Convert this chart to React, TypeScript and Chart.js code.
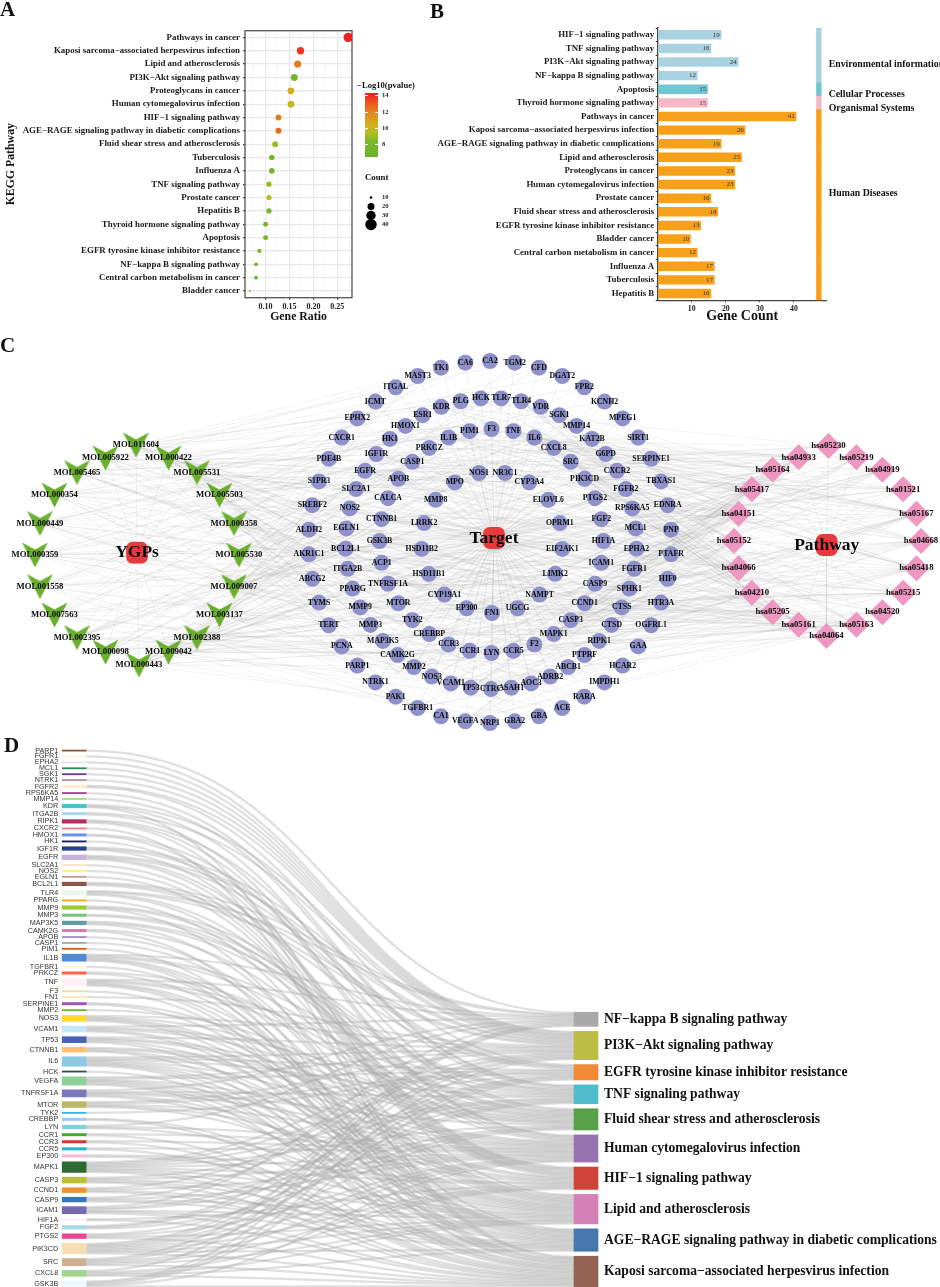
import React, { useEffect, useRef } from "react";
import { Chart, registerables } from "chart.js";
Chart.register(...registerables);

const SERIF = '"Liberation Serif", serif';
const SANS = '"Liberation Sans", sans-serif';

// ---------- Panel A ----------
const keggPathways = ["Pathways in cancer", "Kaposi sarcoma−associated herpesvirus infection", "Lipid and atherosclerosis", "PI3K−Akt signaling pathway", "Proteoglycans in cancer", "Human cytomegalovirus infection", "HIF−1 signaling pathway", "AGE−RAGE signaling pathway in diabetic complications", "Fluid shear stress and atherosclerosis", "Tuberculosis", "Influenza A", "TNF signaling pathway", "Prostate cancer", "Hepatitis B", "Thyroid hormone signaling pathway", "Apoptosis", "EGFR tyrosine kinase inhibitor resistance", "NF−kappa B signaling pathway", "Central carbon metabolism in cancer", "Bladder cancer"];
const geneRatio = [0.273, 0.173, 0.167, 0.16, 0.153, 0.153, 0.127, 0.127, 0.12, 0.113, 0.113, 0.107, 0.107, 0.107, 0.1, 0.1, 0.087, 0.08, 0.08, 0.067];
const keggCount = [41, 26, 25, 24, 23, 23, 19, 19, 18, 17, 17, 16, 16, 16, 15, 15, 13, 12, 12, 10];
const logP = [14.3, 13.8, 12.2, 7.9, 10.6, 10.1, 12.1, 12.6, 9.0, 7.9, 7.6, 8.9, 9.7, 7.7, 7.8, 7.6, 8.2, 7.7, 7.6, 7.6];
const colorStops: [number, number[]][] = [[6.5, [103, 179, 46]], [8.5, [125, 185, 40]], [9.5, [180, 190, 35]], [10.5, [210, 175, 28]], [12, [229, 130, 30]], [13, [235, 90, 30]], [14.3, [238, 32, 32]]];
const legendCounts = ["10", "20", "30", "40"];
const legendRadii = [1.3, 3.5, 4.7, 5.7];
const legendTicks = [14, 12, 10, 8];

// ---------- Panel B ----------
const barCategories = ["HIF−1 signaling pathway", "TNF signaling pathway", "PI3K−Akt signaling pathway", "NF−kappa B signaling pathway", "Apoptosis", "Thyroid hormone signaling pathway", "Pathways in cancer", "Kaposi sarcoma−associated herpesvirus infection", "AGE−RAGE signaling pathway in diabetic complications", "Lipid and atherosclerosis", "Proteoglycans in cancer", "Human cytomegalovirus infection", "Prostate cancer", "Fluid shear stress and atherosclerosis", "EGFR tyrosine kinase inhibitor resistance", "Bladder cancer", "Central carbon metabolism in cancer", "Influenza A", "Tuberculosis", "Hepatitis B"];
const barCounts = [19, 16, 24, 12, 15, 15, 41, 26, 19, 25, 23, 23, 16, 18, 13, 10, 12, 17, 17, 16];
const barClass = [0, 0, 0, 0, 1, 2, 3, 3, 3, 3, 3, 3, 3, 3, 3, 3, 3, 3, 3, 3];
const classColors = ["#a9d2e0", "#70c7d2", "#f6b8c6", "#f7a11a"];
const stripRange = [46.6, 48];

// ---------- Panel C ----------
const moleculeNames = ["MOL000359", "MOL000449", "MOL000354", "MOL005465", "MOL005922", "MOL011604", "MOL000422", "MOL005531", "MOL005503", "MOL000358", "MOL005530", "MOL009007", "MOL003137", "MOL002388", "MOL009042", "MOL000443", "MOL000098", "MOL002395", "MOL007563", "MOL001558"];
const pathwayNodes = ["hsa05152", "hsa04151", "hsa05417", "hsa05164", "hsa04933", "hsa05230", "hsa05219", "hsa04919", "hsa01521", "hsa05167", "hsa04668", "hsa05418", "hsa05215", "hsa04520", "hsa05163", "hsa04064", "hsa05161", "hsa05205", "hsa04210", "hsa04066"];
const ringOuter = ["CA2", "TGM2", "CFD", "DGAT2", "FPR2", "KCNH2", "MPEG1", "SIRT1", "SERPINE1", "TBXAS1", "EDNRA", "PNP", "PTAFR", "HIF0", "HTR3A", "OGFRL1", "GAA", "HCAR2", "IMPDH1", "RARA", "ACE", "GBA", "GBA2", "NRP1", "VEGFA", "CA1", "TGFBR1", "PAK1", "NTRK1", "PARP1", "PCNA", "TERT", "TYMS", "ABCG2", "AKR1C1", "ALDH2", "SREBF2", "S1PR3", "PDE4B", "CXCR1", "EPHX2", "ICMT", "ITGAL", "MAST3", "TK1", "CA6"];
const ringSecond = ["HCK", "TLR7", "TLR4", "VDR", "SGK1", "MMP14", "KAT2B", "G6PD", "CXCR2", "FGFR2", "RPS6KA5", "MCL1", "EPHA2", "FGFR1", "SPHK1", "CTSS", "CTSD", "RIPK1", "PTPRF", "ABCB1", "ADRB2", "AOC3", "ASAH1", "CTRC", "TP53", "VCAM1", "NOS3", "MMP2", "CAMK2G", "MAP3K5", "MMP3", "MMP9", "PPARG", "ITGA2B", "BCL2L1", "EGLN1", "NOS2", "SLC2A1", "EGFR", "IGF1R", "HK1", "HMOX1", "ESR1", "KDR", "PLG"];
const ringThird = ["F3", "TNF", "IL6", "CXCL8", "SRC", "PIK3CD", "PTGS2", "FGF2", "HIF1A", "ICAM1", "CASP9", "CCND1", "CASP3", "MAPK1", "F2", "CCR5", "LYN", "CCR1", "CCR3", "CREBBP", "TYK2", "MTOR", "TNFRSF1A", "ACP1", "GSK3B", "CTNNB1", "CALCA", "APOB", "CASP1", "PRKCZ", "IL1B", "PIM1"];
const ringInner = ["NOS1", "NR3C1", "CYP3A4", "ELOVL6", "OPRM1", "EIF2AK1", "LIMK2", "NAMPT", "UGCG", "FN1", "EP300", "CYP19A1", "HSD11B1", "HSD11B2", "LRRK2", "MMP8", "MPO"];
// target indices (outer, second, third, inner rings in sequence) linked to each molecule; estimated
const moleculeTargets: number[][] = [
  [0, 14, 33, 47, 58, 72, 91, 105, 120, 127, 135, 8, 64, 83, 36, 99],
  [2, 19, 38, 49, 60, 77, 93, 108, 117, 123, 132, 26, 86, 101, 35],
  [5, 21, 40, 53, 66, 79, 96, 111, 122, 129, 137, 11, 70, 37, 94],
  [7, 29, 43, 51, 63, 81, 97, 104, 113, 125, 134, 39, 85, 34, 56],
  [9, 24, 41, 55, 68, 74, 92, 107, 119, 130, 139, 3, 89, 42, 100, 61],
  [1, 17, 44, 46, 62, 78, 90, 103, 116, 124, 133, 30, 80, 6, 112],
  [4, 22, 32, 50, 69, 84, 95, 110, 121, 128, 136, 15, 59, 28, 102],
  [10, 27, 45, 54, 65, 75, 98, 106, 115, 126, 138, 18, 87, 31, 91, 73],
  [12, 25, 37, 48, 67, 82, 94, 109, 118, 131, 123, 20, 57, 88, 105, 71],
  [13, 23, 34, 52, 71, 76, 99, 102, 114, 127, 135, 16, 61, 92, 44, 83],
  [15, 26, 39, 47, 64, 86, 93, 113, 122, 124, 137, 2, 72, 108, 59, 100, 33],
  [16, 28, 35, 56, 73, 80, 101, 111, 117, 132, 139, 8, 68, 96, 47, 120, 41],
  [18, 30, 42, 58, 70, 89, 103, 107, 121, 125, 129, 5, 77, 95, 50, 116, 36, 85],
  [19, 31, 36, 60, 74, 83, 104, 110, 119, 133, 136, 11, 66, 98, 52, 115, 27, 87, 97, 114],
  [20, 32, 38, 62, 75, 85, 106, 112, 118, 126, 130, 1, 69, 91, 54, 122, 24, 79, 109, 103, 64],
  [21, 33, 43, 49, 78, 87, 97, 105, 116, 134, 138, 9, 63, 92, 55, 113, 29, 81],
  [22, 34, 40, 51, 76, 84, 100, 114, 120, 128, 131, 13, 67, 94, 46, 107],
  [6, 35, 41, 53, 77, 82, 95, 109, 115, 123, 137, 17, 65, 104],
  [23, 30, 44, 57, 72, 88, 98, 111, 119, 129, 135, 4, 74, 93],
  [25, 37, 45, 48, 79, 90, 99, 101, 118, 127, 139, 12, 71, 110, 31],
];
// genes of the pathways not shown in panel D; estimated
const otherPathwayGenes: Record<string, string[]> = {
  hsa05230: ["EGFR", "HK1", "MTOR", "MAPK1", "PIK3CD", "SLC2A1", "KDR", "FGFR1", "FGFR2", "HIF1A", "TP53", "SRC"],
  hsa05219: ["EGFR", "VEGFA", "MMP2", "MMP9", "PTGS2", "TP53", "CCND1", "MAPK1", "CXCL8", "FGFR1"],
  hsa04919: ["MTOR", "PIK3CD", "MAPK1", "CCND1", "TP53", "CTNNB1", "MMP2", "MMP9", "ICAM1", "GSK3B", "PRKCZ", "EP300", "CREBBP", "HIF1A", "SRC"],
  hsa05215: ["EGFR", "MMP3", "MMP9", "MTOR", "PIK3CD", "MAPK1", "TP53", "CTNNB1", "CCND1", "GSK3B", "FGFR1", "FGFR2", "IGF1R", "EP300", "CREBBP", "BCL2L1"],
  hsa04520: ["EGFR", "SRC", "IGF1R", "TGFBR1", "MAPK1", "CTNNB1", "EP300", "CREBBP", "FGFR1", "LYN", "VEGFA"],
  hsa05161: ["TNF", "IL6", "CXCL8", "MMP9", "CASP3", "CASP9", "MAPK1", "PIK3CD", "TP53", "CCND1", "BCL2L1", "SRC", "EP300", "CREBBP", "TLR4", "TGFBR1"],
  hsa05205: ["EGFR", "VEGFA", "KDR", "MMP2", "MMP9", "MAPK1", "MTOR", "PIK3CD", "TP53", "CTNNB1", "CCND1", "CASP3", "FN1", "SRC", "HIF1A", "ITGA2B", "IGF1R", "FGFR1", "FGF2", "TNF", "ESR1", "TLR4", "CAMK2G"],
  hsa04210: ["TNF", "CASP3", "CASP9", "BCL2L1", "MCL1", "MAPK1", "PIK3CD", "TP53", "TNFRSF1A", "RIPK1", "PARP1", "CTSS", "CTSD", "MAP3K5", "HIF1A"],
  hsa05152: ["TNF", "IL1B", "IL6", "CASP3", "CASP9", "MAPK1", "TLR4", "TNFRSF1A", "BCL2L1", "TGFBR1", "CTSS", "CTSD", "LYN", "HCK", "MMP9", "NOS2", "CREBBP"],
  hsa05164: ["TNF", "IL1B", "IL6", "CXCL8", "CASP1", "CASP3", "CASP9", "MAPK1", "PIK3CD", "TLR4", "TNFRSF1A", "ICAM1", "EP300", "CREBBP", "GSK3B", "TP53", "RIPK1"],
};

// ---------- Panel D ----------
const sankeyPathways = ["NF−kappa B signaling pathway", "PI3K−Akt signaling pathway", "EGFR tyrosine kinase inhibitor resistance", "TNF signaling pathway", "Fluid shear stress and atherosclerosis", "Human cytomegalovirus infection", "HIF−1 signaling pathway", "Lipid and atherosclerosis", "AGE−RAGE signaling pathway in diabetic complications", "Kaposi sarcoma−associated herpesvirus infection"];
const sankeyPathwayIds = ["hsa04064", "hsa04151", "hsa01521", "hsa04668", "hsa05418", "hsa05163", "hsa04066", "hsa05417", "hsa04933", "hsa05167"];
const sankeyPathwayColors = ["#a9a9a9", "#bcbd44", "#f28a35", "#4fbccb", "#57a14b", "#9873b1", "#cf4436", "#d580b7", "#4678b0", "#956352"];
const sankeyGenes = ["PARP1", "FGFR1", "EPHA2", "MCL1", "SGK1", "NTRK1", "FGFR2", "RPS6KA5", "MMP14", "KDR", "ITGA2B", "RIPK1", "CXCR2", "HMOX1", "HK1", "IGF1R", "EGFR", "SLC2A1", "NOS2", "EGLN1", "BCL2L1", "TLR4", "PPARG", "MMP9", "MMP3", "MAP3K5", "CAMK2G", "APOB", "CASP1", "PIM1", "IL1B", "TGFBR1", "PRKCZ", "TNF", "F3", "FN1", "SERPINE1", "MMP2", "NOS3", "VCAM1", "TP53", "CTNNB1", "IL6", "HCK", "VEGFA", "TNFRSF1A", "MTOR", "TYK2", "CREBBP", "LYN", "CCR1", "CCR3", "CCR5", "EP300", "MAPK1", "CASP3", "CCND1", "CASP9", "ICAM1", "HIF1A", "FGF2", "PTGS2", "PIK3CD", "SRC", "CXCL8", "GSK3B"];
const sankeyGeneColors = ["#8c5a2b", "#fdf5e6", "#e6e6e6", "#2e8b57", "#6a3d9a", "#bc8f8f", "#fdebd0", "#ae3ea0", "#a6d98c", "#4fc0c4", "#add8e6", "#b03060", "#f08080", "#6495ed", "#191970", "#27408b", "#c5b3dc", "#ffe4c4", "#fff176", "#c49c94", "#8c564b", "#eef7ee", "#ff9f1c", "#9acd32", "#74c476", "#5f9ea0", "#de77ae", "#a58ac9", "#aaaaaa", "#d95f0e", "#4e8ccf", "#fffacd", "#ff6347", "#fff0f5", "#dde29f", "#ffe4b5", "#9b59b6", "#66b32e", "#ffd92f", "#c6e7f5", "#4a62b4", "#fdbf6f", "#8fc8e3", "#2f4f4f", "#8fcf9a", "#7b78c0", "#bdb76b", "#33b5ee", "#a6c4ea", "#7fd0d8", "#44aa33", "#d0392b", "#26b5c6", "#f8bbd0", "#2f6a35", "#bcbd3a", "#f28e2b", "#3a76b0", "#756bb1", "#f5f5f5", "#a3dbe6", "#e8488f", "#f5deb3", "#cdb08f", "#a1d58c", "#f0f8ff"];
const sankeyLinks: number[][] = [[0], [1], [1], [1], [1], [1], [1, 2], [3], [3], [1, 4, 9], [1, 5], [3, 5, 7], [9], [4, 6], [6], [1, 2, 6], [1, 2, 5, 6], [6], [6], [6], [0, 1, 2], [0, 1, 5, 6], [7], [3, 4, 8], [3, 4], [3, 4, 7], [5, 9], [7], [7], [9], [0, 3, 4, 7, 8, 9], [8], [4, 8], [0, 3, 4, 7, 8, 9], [9], [1], [6, 8], [4], [1, 4, 6, 7, 8], [0, 3, 4, 7, 8], [1, 4, 5, 7, 9], [4, 5, 7, 9], [1, 2, 3, 5, 6, 7, 8, 9], [9], [1, 2, 5, 6, 7, 8, 9], [0, 3, 4, 5, 7, 8], [1, 2, 5, 6, 7], [2], [8, 9], [0, 5, 7], [5, 9], [5, 9], [5, 9], [6, 7], [1, 2, 3, 4, 5, 6, 7, 8, 9], [3, 5, 7, 8, 9], [1, 5, 8, 9], [1, 5, 7, 8], [0, 3, 4, 7, 8, 9], [6, 9], [1, 2, 4], [3, 5, 7, 9], [1, 2, 3, 4, 5, 6, 7, 8, 9], [0, 2, 5, 6, 7, 9], [0, 6, 7, 8, 9], [0, 1, 2, 5, 9]];

// ---------- helpers ----------
function pValueColor(v: number) {
  for (let i = 1; i < colorStops.length; i++) {
    if (v <= colorStops[i][0]) {
      const [a, ca] = colorStops[i - 1], [b, cb] = colorStops[i];
      const t = Math.max(0, (v - a) / (b - a));
      return `rgb(${ca.map((c, k) => Math.round(c + (cb[k] - c) * t)).join(",")})`;
    }
  }
  return `rgb(${colorStops[colorStops.length - 1][1].join(",")})`;
}
const countRadius = (c: number) => 1 + 3.7 * Math.sqrt(Math.max(0, c - 10) / 31);

type Pt = { x: number; y: number; name: string };
function ring(names: string[], cx: number, cy: number, rx: number, ry: number, startDeg: number, shift: Record<string, [number, number]> = {}): Pt[] {
  return names.map((name, i) => {
    const a = ((startDeg + (360 * i) / names.length) * Math.PI) / 180;
    const s = shift[name] || [0, 0];
    return { x: cx + rx * Math.cos(a) + s[0], y: cy + ry * Math.sin(a) + s[1], name };
  });
}

const base: any = { responsive: false, animation: false, events: [], plugins: { legend: { display: false }, tooltip: { enabled: false } } };

function Cv({ left, top, width, height, make }: { left: number; top: number; width: number; height: number; make: () => any }) {
  const ref = useRef<HTMLCanvasElement>(null);
  useEffect(() => {
    const c = new Chart(ref.current!, make());
    return () => c.destroy();
  }, []);
  return <canvas ref={ref} width={width} height={height} style={{ position: "absolute", left, top, width, height, display: "block" }} />;
}

function Txt({ x, y, s, size, bold = true, align = "left", color = "#111", font = SERIF }: any) {
  const tx = align === "center" ? "-50%" : align === "right" ? "-100%" : "0";
  return <div style={{ position: "absolute", left: x, top: y, transform: `translate(${tx},-50%)`, fontFamily: font, fontSize: size, fontWeight: bold ? 700 : 400, color, whiteSpace: "nowrap", lineHeight: 1 }}>{s}</div>;
}

// ---------- chart configs ----------
function configA() {
  const isMajor = (v: number) => Math.abs(v / 0.05 - Math.round(v / 0.05)) < 1e-6;
  return {
    type: "scatter",
    data: {
      datasets: [{
        data: keggPathways.map((n, i) => ({ x: geneRatio[i], y: n })),
        pointRadius: keggCount.map(countRadius),
        backgroundColor: logP.map(pValueColor),
        borderWidth: 0,
      }],
    },
    options: {
      ...base,
      layout: { autoPadding: false, padding: { top: 10.7, right: 8, left: 0, bottom: 0 } },
      scales: {
        x: {
          type: "linear", min: 0.0569, max: 0.2808,
          afterBuildTicks: (s: any) => { s.ticks = [0.075, 0.1, 0.125, 0.15, 0.175, 0.2, 0.225, 0.25, 0.275].map((value) => ({ value })); },
          afterFit: (s: any) => { s.height = 32.3; },
          ticks: { autoSkip: false, maxRotation: 0, padding: 2, font: { family: SERIF, size: 8, weight: "bold" }, color: "#222", callback: (v: number) => (isMajor(v) ? v.toFixed(2) : "") },
          grid: {
            color: (c: any) => (c.tick && isMajor(c.tick.value) ? "#e8e8e8" : "#f3f3f3"),
            lineWidth: (c: any) => (c.tick && isMajor(c.tick.value) ? 1.2 : 0.7),
            tickColor: (c: any) => (c.tick && isMajor(c.tick.value) ? "#444" : "rgba(0,0,0,0)"),
            tickLength: 2,
          },
          border: { display: false },
          title: { display: true, text: "Gene Ratio", color: "#111", font: { family: SERIF, size: 11.8, weight: "bold" }, padding: { top: 0, bottom: 6 } },
        },
        y: {
          type: "category", labels: keggPathways, offset: true,
          afterFit: (s: any) => { s.width = 245; },
          ticks: { autoSkip: false, padding: 3, font: { family: SERIF, size: 8.9, weight: "bold" }, color: "#1a1a1a" },
          grid: { color: "#e8e8e8", lineWidth: 1.2, tickColor: "#444", tickLength: 2 },
          border: { display: false },
          title: { display: true, text: "KEGG Pathway", color: "#111", font: { family: SERIF, size: 11.8, weight: "bold" }, padding: { top: 4, bottom: 0 } },
        },
      },
    },
    plugins: [{
      id: "panelBorder",
      beforeDatasetsDraw(c: any) {
        const a = c.chartArea, g = c.ctx;
        g.save(); g.strokeStyle = "#555"; g.lineWidth = 1.3; g.strokeRect(a.left, a.top, a.width, a.height); g.restore();
      },
    }],
  };
}

function configCountLegend() {
  return {
    type: "scatter",
    data: { datasets: [{ data: legendCounts.map((y) => ({ x: 0, y })), pointRadius: legendRadii, backgroundColor: "#000", borderWidth: 0 }] },
    options: {
      ...base,
      layout: { autoPadding: false, padding: 0 },
      scales: {
        x: { display: false, min: -1, max: 1 },
        y: {
          type: "category", position: "right", labels: legendCounts, offset: true,
          afterFit: (s: any) => { s.width = 26; },
          grid: { display: false, drawTicks: false }, border: { display: false },
          ticks: { autoSkip: false, padding: 4, font: { family: SERIF, size: 6.5, weight: "bold" }, color: "#222" },
        },
      },
    },
  };
}

function configB() {
  const classEdge = barClass.map((c) => classColors[c]);
  return {
    type: "bar",
    data: {
      labels: barCategories,
      datasets: [
        { data: barCounts, backgroundColor: classEdge, borderColor: "rgba(255,255,255,0.45)", borderWidth: 1, barPercentage: 0.84, categoryPercentage: 1, grouped: false },
        { data: barCategories.map(() => stripRange), backgroundColor: classEdge, borderWidth: 0, barPercentage: 1, categoryPercentage: 1, grouped: false },
      ],
    },
    options: {
      ...base,
      indexAxis: "y",
      layout: { autoPadding: false, padding: { top: 8, right: 113.3, left: 0, bottom: 0 } },
      scales: {
        x: {
          type: "linear", min: 0, max: 49.6, afterFit: (s: any) => { s.height = 29.7; },
          afterBuildTicks: (s: any) => { s.ticks = [10, 20, 30, 40].map((value) => ({ value })); },
          ticks: { autoSkip: false, maxRotation: 0, padding: 2, font: { family: SERIF, size: 7.8, weight: "bold" }, color: "#222" },
          grid: { drawOnChartArea: false, color: "#333", tickLength: 2 },
          border: { color: "#444", width: 1.2 },
          title: { display: true, text: "Gene Count", color: "#111", font: { family: SERIF, size: 14, weight: "bold" }, padding: { top: 0, bottom: 5 } },
        },
        y: {
          type: "category", afterFit: (s: any) => { s.width = 227.7; },
          ticks: { autoSkip: false, padding: 1.5, font: { family: SERIF, size: 8.85, weight: "bold" }, color: "#1a1a1a" },
          grid: { drawOnChartArea: false, color: "#333", tickLength: 2 },
          border: { color: "#444", width: 1.4 },
        },
      },
    },
    plugins: [{
      id: "barValues",
      afterDatasetsDraw(c: any) {
        const g = c.ctx;
        g.save(); g.font = `7px ${SERIF}`; g.fillStyle = "#333"; g.textAlign = "right"; g.textBaseline = "middle";
        c.getDatasetMeta(0).data.forEach((b: any, i: number) => g.fillText(String(barCounts[i]), b.x - 2.6, b.y));
        g.restore();
      },
    }],
  };
}

function veeImage() {
  const c = document.createElement("canvas");
  c.width = 27; c.height = 26;
  const g = c.getContext("2d")!;
  g.fillStyle = "#6aaf2d";
  g.beginPath(); g.moveTo(0.5, 0.5); g.lineTo(13.5, 7.5); g.lineTo(26.5, 0.5); g.lineTo(13.5, 25.5); g.closePath(); g.fill();
  return c;
}

function configC() {
  const molecules = ring(moleculeNames, 137, 555, 102, 102, 180, { MOL011604: [-1, -8], MOL000443: [2, 8] });
  const pathways = ring(pathwayNodes, 827.5, 541, 93.5, 88, 180, { hsa05230: [1, -7], hsa04064: [-1, 7] });
  const targets = [
    ...ring(ringOuter, 490, 542, 181.5, 181, -90),
    ...ring(ringSecond, 491, 543.6, 145.5, 145.5, -94),
    ...ring(ringThird, 491.5, 541, 112, 112, -90),
    ...ring(ringInner, 492, 542.4, 70.6, 70.6, -100.6),
  ];
  const hubs: Pt[] = [{ x: 137, y: 552.7, name: "YGPs" }, { x: 494, y: 538, name: "Target" }, { x: 826.7, y: 545, name: "Pathway" }];
  const edges: any[] = [];
  const seg = (a: Pt, b: Pt) => { edges.push({ x: a.x, y: a.y }, { x: b.x, y: b.y }, { x: null, y: null }); };
  molecules.forEach((m) => seg(hubs[0], m));
  targets.forEach((t) => seg(hubs[1], t));
  pathways.forEach((p) => seg(hubs[2], p));
  moleculeTargets.forEach((list, i) => list.forEach((t) => seg(molecules[i], targets[t])));
  const byName: Record<string, Pt> = {};
  [...targets, ...pathways].forEach((p) => { byName[p.name] = p; });
  sankeyLinks.forEach((list, g) => list.forEach((p) => { const a = byName[sankeyGenes[g]], b = byName[sankeyPathwayIds[p]]; if (a && b) seg(a, b); }));
  Object.entries(otherPathwayGenes).forEach(([id, genes]) => genes.forEach((n) => { const a = byName[n], b = byName[id]; if (a && b) seg(a, b); }));
  return {
    type: "scatter",
    data: {
      datasets: [
        { data: hubs, pointStyle: "rectRounded", pointRadius: 12.7, backgroundColor: "#e83a3a", borderWidth: 0 },
        { data: targets, pointRadius: 8, backgroundColor: "#8f91cb", borderWidth: 0 },
        { data: molecules, pointStyle: veeImage(), pointRadius: 13, backgroundColor: "#6aaf2d", borderWidth: 0 },
        { data: pathways, pointStyle: "rectRot", pointRadius: 13, backgroundColor: "#ee97c0", borderWidth: 0 },
        { data: edges, showLine: true, pointRadius: 0, borderColor: "rgba(120,120,120,0.17)", borderWidth: 0.55, spanGaps: false, segment: { borderWidth: () => 0.55 } },
      ],
    },
    options: {
      ...base,
      layout: { autoPadding: false, padding: 0 },
      scales: { x: { display: false, min: 0, max: 940 }, y: { display: false, min: 330, max: 735, reverse: true } },
    },
    plugins: [{
      id: "nodeLabels",
      afterDatasetsDraw(c: any) {
        const g = c.ctx, X = c.scales.x, Y = c.scales.y;
        g.save(); g.textAlign = "center"; g.textBaseline = "middle"; g.fillStyle = "#0a0a0a";
        const draw = (list: Pt[], px: number) => {
          g.font = `bold ${px}px ${SERIF}`;
          list.forEach((p) => g.fillText(p.name, X.getPixelForValue(p.x), Y.getPixelForValue(p.y)));
        };
        draw(targets, 7.8); draw(molecules, 8.7); draw(pathways, 8.7); draw(hubs, 17.5);
        g.restore();
      },
    }],
  };
}

function configD() {
  const UNIT = 1.18, GAP_L = 4, GAP_R = 4.2;
  const colX = [0, 1];
  const rightCounts = sankeyPathways.map((_, p) => sankeyLinks.reduce((n, l) => n + (l.includes(p) ? 1 : 0), 0));
  let y = 0;
  const leftY = sankeyGenes.map((_, i) => { const a = y; y += sankeyLinks[i].length + GAP_L; return a; });
  const total = y - GAP_L;
  let r = total - (rightCounts.reduce((a, b) => a + b, 0) + GAP_R * (rightCounts.length - 1));
  const rightY = rightCounts.map((c) => { const a = r; r += c + GAP_R; return a; });
  const cursor = rightY.slice();
  const links = sankeyLinks.flatMap((l, g) => l.map((p, k) => { const from = leftY[g] + k; const to = cursor[p]; cursor[p] += 1; return { from, to }; }));
  const bars = [
    ...sankeyGenes.map((_, i) => ({ x: colX[0], y: [leftY[i], leftY[i] + sankeyLinks[i].length] })),
    ...rightCounts.map((c, i) => ({ x: colX[1], y: [rightY[i], rightY[i] + c] })),
  ];
  const span = 511.8; // pixels between columns
  return {
    type: "bar",
    data: { datasets: [{ data: bars, backgroundColor: [...sankeyGeneColors, ...sankeyPathwayColors], barThickness: 24, borderWidth: 0, grouped: false }] },
    options: {
      ...base,
      layout: { autoPadding: false, padding: 0 },
      scales: {
        x: { type: "linear", display: false, offset: false, min: -74.2 / span, max: (940 - 74.2) / span },
        y: { type: "linear", display: false, reverse: true, min: -15 / UNIT, max: 537 / UNIT },
      },
    },
    plugins: [{
      id: "sankeyRibbons",
      beforeDatasetsDraw(c: any) {
        const g = c.ctx, X = c.scales.x, Y = c.scales.y;
        const x0 = X.getPixelForValue(colX[0]) + 12, x1 = X.getPixelForValue(colX[1]) - 12, mid = (x0 + x1) / 2;
        const w = Math.abs(Y.getPixelForValue(1) - Y.getPixelForValue(0));
        g.save(); g.strokeStyle = "rgba(170,170,170,0.38)"; g.lineWidth = w * 1.9;
        links.forEach((l) => {
          const a = Y.getPixelForValue(l.from + 0.5), b = Y.getPixelForValue(l.to + 0.5);
          g.beginPath(); g.moveTo(x0, a); g.bezierCurveTo(mid, a, mid, b, x1, b); g.stroke();
        });
        g.restore();
      },
      afterDatasetsDraw(c: any) {
        const g = c.ctx, X = c.scales.x, Y = c.scales.y;
        g.save(); g.textBaseline = "middle"; g.textAlign = "right"; g.fillStyle = "#333"; g.font = `7.2px ${SANS}`;
        sankeyGenes.forEach((n, i) => g.fillText(n, X.getPixelForValue(colX[0]) - 16, Y.getPixelForValue(leftY[i] + sankeyLinks[i].length / 2)));
        g.textAlign = "left"; g.fillStyle = "#111"; g.font = `bold 13.6px ${SERIF}`;
        sankeyPathways.forEach((n, i) => g.fillText(n, X.getPixelForValue(colX[1]) + 18, Y.getPixelForValue(rightY[i] + rightCounts[i] / 2)));
        g.restore();
      },
    }],
  };
}

export default function App() {
  const lo = colorStops[0][0], hi = colorStops[colorStops.length - 1][0];
  const gradient = `linear-gradient(to top, ${colorStops.map(([v]) => `${pValueColor(v)} ${((v - lo) / (hi - lo)) * 100}%`).join(",")})`;
  return (
    <div style={{ position: "absolute", left: 0, top: 0, width: 940, height: 1287, background: "#fff", overflow: "hidden" }}>
      <Cv left={0} top={20} width={360} height={310} make={configA} />
      <Cv left={430} top={20} width={510} height={310} make={configB} />
      <Cv left={0} top={330} width={940} height={405} make={configC} />
      <Cv left={0} top={735} width={940} height={552} make={configD} />
      <Cv left={364} top={185} width={40} height={52} make={configCountLegend} />

      <Txt x={0} y={9} s="A" size={21} />
      <Txt x={430} y={11} s="B" size={21} />
      <Txt x={0} y={345} s="C" size={21} />
      <Txt x={4} y={745} s="D" size={21} />

      <Txt x={386} y={85} s="−Log10(pvalue)" size={8.6} align="center" />
      <div style={{ position: "absolute", left: 365, top: 92.7, width: 12.7, height: 64, background: gradient }} />
      {legendTicks.map((v) => (
        <React.Fragment key={v}>
          <div style={{ position: "absolute", left: 365, width: 2.5, height: 1, background: "#fff", top: 156.7 - (v - lo) * 8.2 }} />
          <div style={{ position: "absolute", left: 375, width: 2.5, height: 1, background: "#fff", top: 156.7 - (v - lo) * 8.2 }} />
          <Txt x={382} y={156.7 - (v - lo) * 8.2} s={String(v)} size={6.5} color="#222" />
        </React.Fragment>
      ))}
      <Txt x={376.7} y={177} s="Count" size={8.8} align="center" />

      <Txt x={828.7} y={64} s="Environmental information" size={9.8} />
      <Txt x={828.7} y={94} s="Cellular Processes" size={9.8} />
      <Txt x={828.7} y={107.7} s="Organismal Systems" size={9.8} />
      <Txt x={828.7} y={192.7} s="Human Diseases" size={9.8} />
    </div>
  );
}
